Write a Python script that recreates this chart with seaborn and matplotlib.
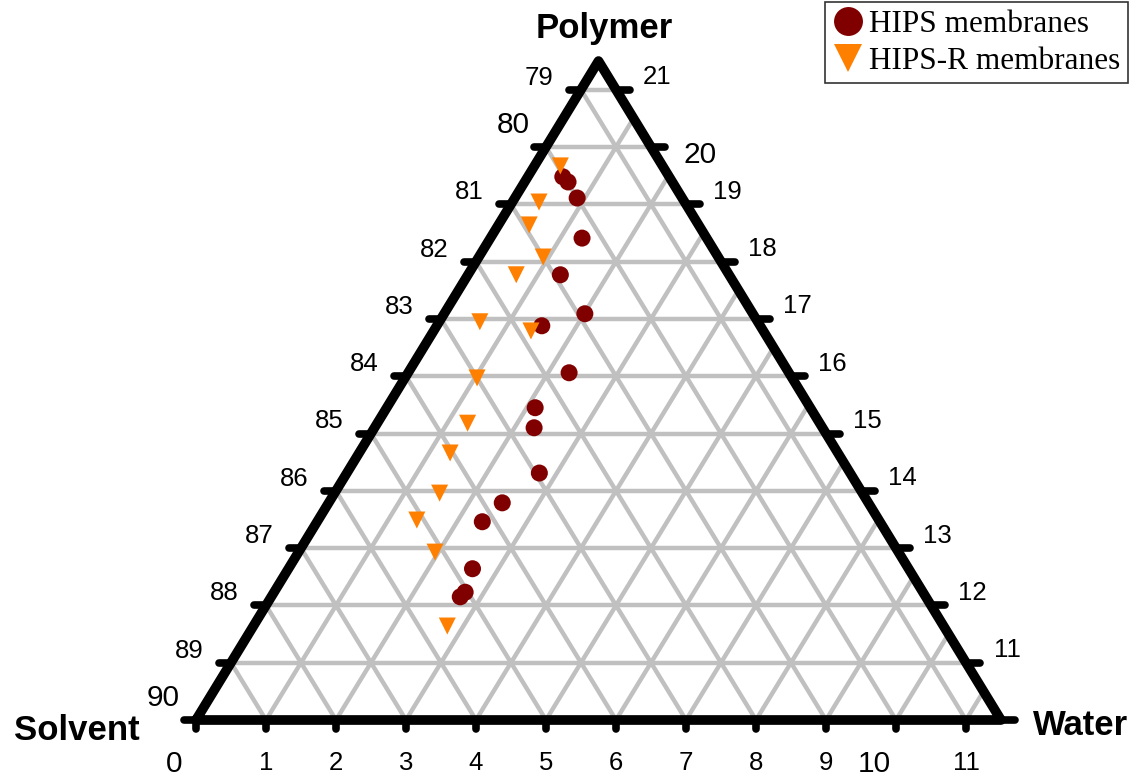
import numpy as np
import pandas as pd
import matplotlib
matplotlib.use("Agg")
import matplotlib.pyplot as plt
import seaborn as sns

# ---------------- data (wt %) ----------------
hips_polymer = [19.48, 19.39, 19.11, 18.41, 17.77, 16.88, 17.09, 16.06, 15.45, 15.10,
                14.31, 13.79, 13.46, 12.64, 12.23, 12.15]
hips_water = [0.50, 0.62, 0.89, 1.31, 1.32, 1.50, 2.01, 2.30, 2.12, 2.28,
              2.75, 2.48, 2.36, 2.63, 2.73, 2.70]
hipsr_polymer = [19.67, 19.04, 18.64, 18.08, 17.77, 16.95, 16.79, 15.97, 15.18, 14.66,
                 13.96, 13.49, 12.93, 11.64]
hipsr_water = [0.37, 0.38, 0.44, 0.92, 0.69, 0.58, 1.39, 1.03, 1.29, 1.30,
               1.50, 1.41, 1.95, 2.77]

series_labels = ["HIPS membranes", "HIPS-R membranes"]
vertex_labels = ["Polymer", "Solvent", "Water"]
solvent_ticks = list(range(90, 78, -1))   # left axis 90 .. 79
polymer_ticks = list(range(10, 22))       # right axis 10 .. 21 (10 unlabeled)
water_ticks = list(range(0, 12))          # bottom axis 0 .. 11

# ternary window
POLY_MIN, WATER_MIN, SOLV_MAX, SPAN = 10.0, 0.0, 90.0, 11.5

def to_xy(polymer, water):
    p = np.asarray(polymer, float) - POLY_MIN
    w = np.asarray(water, float) - WATER_MIN
    return w + p / 2.0, p

# ---------------- figure ----------------
sns.set_style("white")
plt.rcParams["font.family"] = ["Liberation Sans", "DejaVu Sans"]
plt.rcParams["text.color"] = "black"

W_PX, H_PX = 1139, 776
fig = plt.figure(figsize=(W_PX / 100, H_PX / 100), dpi=100)
ax = fig.add_axes([0, 0, 1, 1])
X0, Y0, UX, UY = 196.0, 720.0, 70.0, 57.3
ax.set_xlim(-X0 / UX, (W_PX - X0) / UX)
ax.set_ylim((Y0 - H_PX) / UY, Y0 / UY)
ax.axis("off")

grid_kw = dict(color="#c0c0c0", lw=3.2, solid_capstyle="butt", zorder=1)
for k in range(1, 12):
    # polymer constant (horizontal)
    ax.plot([k / 2, SPAN - k / 2], [k, k], **grid_kw)
    # water constant
    ax.plot([k, k + (SPAN - k) / 2], [0, SPAN - k], **grid_kw)
    # solvent constant
    ax.plot([k, k / 2], [0, k], **grid_kw)

# triangle edges
edge_kw = dict(color="black", lw=7, solid_capstyle="round", solid_joinstyle="round", zorder=3)
ax.plot([0, SPAN, SPAN / 2, 0], [0, 0, SPAN, 0], **edge_kw)

# ticks
tick_kw = dict(color="black", lw=5.5, solid_capstyle="round", zorder=3)
for s in solvent_ticks:
    p = SOLV_MAX - s
    ax.plot([p / 2, p / 2 - 12 / UX], [p, p], **tick_kw)
for pol in polymer_ticks:
    p = pol - POLY_MIN
    xr = SPAN - p / 2
    ax.plot([xr, xr + 14 / UX], [p, p], **tick_kw)
for w in water_ticks:
    ax.plot([w, w], [0, -9 / UY], **tick_kw)

# tick labels
minor_fs, major_fs = 18.5, 21.5
def lab(text, xy, off, fs):
    ax.annotate(text, xy=xy, xytext=off, textcoords="offset pixels",
                ha="center", va="baseline", fontsize=fs, color="black", zorder=4)

for s in solvent_ticks:
    p = SOLV_MAX - s
    if s % 10 == 0:
        lab(str(s), (p / 2, p), (-33, 14), major_fs)
    else:
        lab(str(s), (p / 2, p), (-42, 5), minor_fs)
for pol in polymer_ticks:
    if pol == 10:
        continue
    p = pol - POLY_MIN
    if pol % 10 == 0:
        lab(str(pol), (SPAN - p / 2, p), (49, -16), major_fs)
    else:
        lab(str(pol), (SPAN - p / 2, p), (41, 5.5), minor_fs)
for w in water_ticks:
    if w % 10 == 0:
        lab(str(w), (w, 0), (-22, -52), major_fs)
    else:
        lab(str(w), (w, 0), (0, -50), minor_fs)

# vertex labels
vfs = 25
fig.text(604 / W_PX, 1 - 38 / H_PX, vertex_labels[0], ha="center", va="baseline",
         fontsize=vfs, fontweight="bold", color="black")
fig.text(77 / W_PX, 1 - 740 / H_PX, vertex_labels[1], ha="center", va="baseline",
         fontsize=vfs, fontweight="bold", color="black")
fig.text(1081 / W_PX, 1 - 735 / H_PX, vertex_labels[2], ha="center", va="baseline",
         fontsize=vfs, fontweight="bold", color="black")

# data points
hx, hy = to_xy(hips_polymer, hips_water)
rx, ry = to_xy(hipsr_polymer, hipsr_water)
df = pd.DataFrame({
    "x": np.concatenate([hx, rx]),
    "y": np.concatenate([hy, ry]),
    "Membrane": [series_labels[0]] * len(hx) + [series_labels[1]] * len(rx),
})
sns.scatterplot(data=df, x="x", y="y", hue="Membrane", style="Membrane",
                palette={series_labels[0]: "#800000", series_labels[1]: "#ff8000"},
                markers={series_labels[0]: "o", series_labels[1]: "v"},
                s=150, linewidth=0, edgecolor="none", ax=ax, zorder=5, legend=True)

handles, labels = ax.get_legend_handles_labels()
leg = ax.legend(handles, labels, loc="upper right",
                bbox_to_anchor=(1128 / W_PX, 1 - 2 / H_PX), bbox_transform=fig.transFigure,
                borderaxespad=0, frameon=True, fancybox=False, edgecolor="black",
                prop={"family": "Liberation Serif", "size": 22.5}, markerscale=1.7,
                handlelength=0.95, handletextpad=0.2, borderpad=0.25, labelspacing=0.25)
leg.get_frame().set_linewidth(1.2)
for t in leg.get_texts():
    t.set_color("black")
ax.set_xlabel("")
ax.set_ylabel("")

fig.savefig("out.png", dpi=100)
